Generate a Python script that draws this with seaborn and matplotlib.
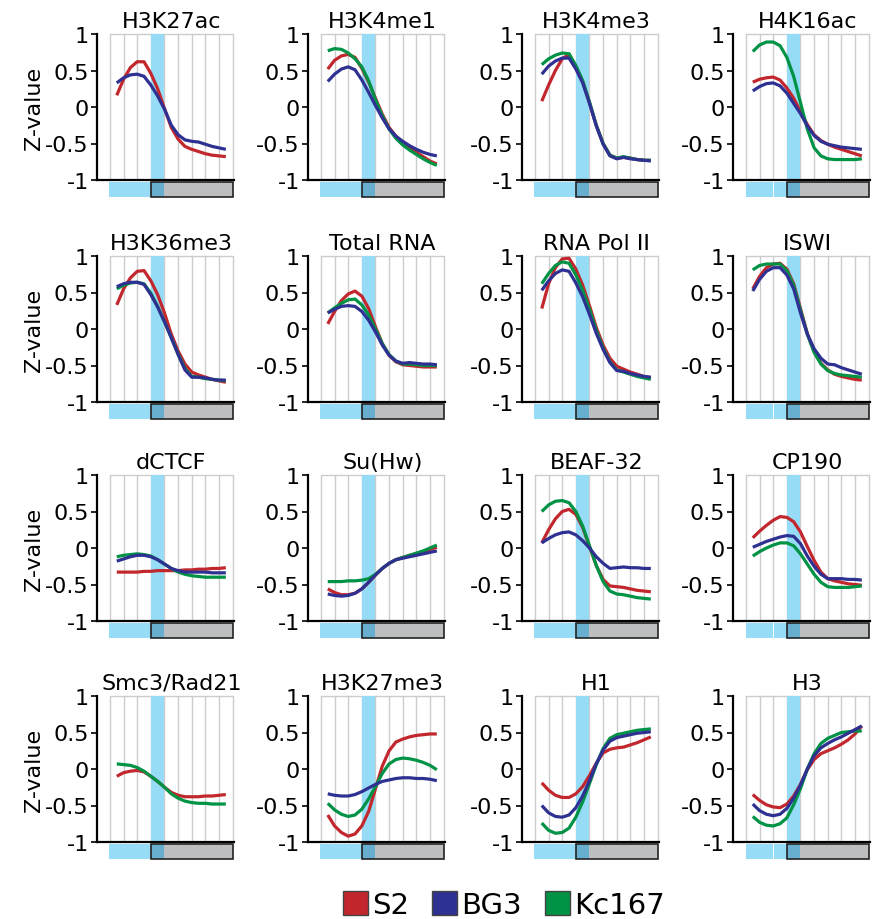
import matplotlib
matplotlib.use("Agg")
import matplotlib.pyplot as plt
from matplotlib.patches import Rectangle, Patch
import pandas as pd
import seaborn as sns

# ---- data -------------------------------------------------------------
# bin centres along the profile (9 bins, sampled every half bin)
positions = [0.5, 1.0, 1.5, 2.0, 2.5, 3.0, 3.5, 4.0, 4.5,
             5.0, 5.5, 6.0, 6.5, 7.0, 7.5, 8.0, 8.5]

cell_lines = ["S2", "BG3", "Kc167"]

h3k27ac_s2 = [0.16, 0.38, 0.54, 0.62, 0.62, 0.46, 0.25, -0.02, -0.28, -0.44, -0.54, -0.58, -0.61, -0.64, -0.66, -0.67, -0.68]
h3k27ac_bg3 = [0.33, 0.40, 0.44, 0.45, 0.42, 0.30, 0.15, -0.03, -0.25, -0.38, -0.45, -0.47, -0.48, -0.51, -0.54, -0.56, -0.58]

h3k4me1_s2 = [0.52, 0.64, 0.70, 0.72, 0.68, 0.53, 0.34, 0.12, -0.10, -0.28, -0.40, -0.49, -0.56, -0.62, -0.68, -0.74, -0.78]
h3k4me1_bg3 = [0.35, 0.45, 0.52, 0.55, 0.51, 0.37, 0.20, 0.02, -0.15, -0.30, -0.40, -0.47, -0.53, -0.58, -0.62, -0.65, -0.67]
h3k4me1_kc = [0.77, 0.80, 0.79, 0.74, 0.66, 0.55, 0.36, 0.10, -0.12, -0.30, -0.43, -0.52, -0.59, -0.65, -0.71, -0.76, -0.80]

h3k4me3_s2 = [0.08, 0.30, 0.50, 0.66, 0.72, 0.55, 0.35, 0.06, -0.25, -0.50, -0.66, -0.70, -0.69, -0.70, -0.72, -0.73, -0.73]
h3k4me3_bg3 = [0.45, 0.56, 0.63, 0.67, 0.67, 0.52, 0.33, 0.05, -0.26, -0.51, -0.67, -0.71, -0.69, -0.71, -0.72, -0.73, -0.74]
h3k4me3_kc = [0.58, 0.66, 0.71, 0.74, 0.73, 0.57, 0.36, 0.07, -0.25, -0.50, -0.66, -0.70, -0.68, -0.70, -0.72, -0.73, -0.73]

h4k16ac_s2 = [0.34, 0.38, 0.40, 0.41, 0.37, 0.26, 0.12, -0.06, -0.24, -0.38, -0.46, -0.51, -0.55, -0.58, -0.61, -0.64, -0.67]
h4k16ac_bg3 = [0.22, 0.28, 0.32, 0.33, 0.29, 0.19, 0.05, -0.09, -0.26, -0.39, -0.47, -0.51, -0.53, -0.55, -0.56, -0.57, -0.58]
h4k16ac_kc = [0.76, 0.85, 0.89, 0.89, 0.84, 0.68, 0.42, 0.06, -0.30, -0.56, -0.67, -0.71, -0.72, -0.72, -0.72, -0.72, -0.71]

h3k36me3_s2 = [0.33, 0.55, 0.70, 0.79, 0.80, 0.66, 0.47, 0.22, -0.07, -0.30, -0.48, -0.59, -0.63, -0.66, -0.69, -0.71, -0.73]
h3k36me3_bg3 = [0.58, 0.62, 0.64, 0.64, 0.61, 0.47, 0.30, 0.10, -0.12, -0.35, -0.56, -0.66, -0.66, -0.67, -0.69, -0.70, -0.70]
h3k36me3_kc = [0.55, 0.60, 0.63, 0.64, 0.62, 0.49, 0.31, 0.10, -0.12, -0.34, -0.54, -0.65, -0.66, -0.68, -0.69, -0.70, -0.71]

totalrna_s2 = [0.07, 0.24, 0.39, 0.48, 0.52, 0.45, 0.28, 0.03, -0.20, -0.36, -0.45, -0.49, -0.50, -0.51, -0.52, -0.52, -0.52]
totalrna_bg3 = [0.22, 0.27, 0.31, 0.32, 0.31, 0.24, 0.12, -0.04, -0.22, -0.36, -0.44, -0.47, -0.46, -0.47, -0.48, -0.48, -0.49]
totalrna_kc = [0.22, 0.29, 0.35, 0.40, 0.41, 0.33, 0.19, 0.00, -0.20, -0.35, -0.44, -0.48, -0.48, -0.49, -0.50, -0.50, -0.50]

polii_s2 = [0.28, 0.62, 0.84, 0.96, 0.97, 0.82, 0.60, 0.32, 0.02, -0.22, -0.40, -0.51, -0.55, -0.59, -0.62, -0.65, -0.67]
polii_bg3 = [0.53, 0.66, 0.76, 0.81, 0.79, 0.63, 0.44, 0.20, -0.06, -0.28, -0.46, -0.57, -0.58, -0.61, -0.63, -0.65, -0.66]
polii_kc = [0.62, 0.76, 0.87, 0.92, 0.90, 0.74, 0.53, 0.27, -0.02, -0.26, -0.45, -0.56, -0.59, -0.62, -0.65, -0.67, -0.69]

iswi_s2 = [0.55, 0.72, 0.84, 0.89, 0.90, 0.82, 0.62, 0.28, -0.06, -0.31, -0.47, -0.56, -0.62, -0.65, -0.67, -0.69, -0.70]
iswi_bg3 = [0.52, 0.68, 0.79, 0.84, 0.84, 0.74, 0.55, 0.22, -0.07, -0.27, -0.40, -0.48, -0.49, -0.53, -0.56, -0.59, -0.62]
iswi_kc = [0.81, 0.87, 0.89, 0.89, 0.89, 0.80, 0.60, 0.26, -0.07, -0.32, -0.48, -0.57, -0.61, -0.63, -0.64, -0.65, -0.66]

dctcf_s2 = [-0.33, -0.33, -0.33, -0.33, -0.32, -0.32, -0.31, -0.31, -0.31, -0.31, -0.30, -0.30, -0.29, -0.29, -0.28, -0.28, -0.27]
dctcf_bg3 = [-0.18, -0.15, -0.12, -0.10, -0.10, -0.12, -0.16, -0.22, -0.28, -0.31, -0.33, -0.33, -0.33, -0.33, -0.34, -0.34, -0.34]
dctcf_kc = [-0.12, -0.10, -0.09, -0.08, -0.09, -0.11, -0.16, -0.22, -0.28, -0.33, -0.36, -0.38, -0.39, -0.40, -0.40, -0.40, -0.40]

suhw_s2 = [-0.56, -0.61, -0.64, -0.64, -0.62, -0.56, -0.47, -0.37, -0.28, -0.21, -0.16, -0.13, -0.10, -0.08, -0.05, -0.02, 0.01]
suhw_bg3 = [-0.63, -0.65, -0.66, -0.65, -0.62, -0.56, -0.47, -0.37, -0.28, -0.21, -0.16, -0.14, -0.12, -0.10, -0.08, -0.06, -0.04]
suhw_kc = [-0.46, -0.46, -0.46, -0.45, -0.45, -0.44, -0.42, -0.36, -0.28, -0.21, -0.16, -0.13, -0.10, -0.07, -0.04, 0.00, 0.04]

beaf32_s2 = [0.07, 0.25, 0.40, 0.50, 0.53, 0.46, 0.28, 0.02, -0.24, -0.43, -0.52, -0.53, -0.54, -0.56, -0.58, -0.59, -0.60]
beaf32_bg3 = [0.07, 0.13, 0.18, 0.21, 0.22, 0.18, 0.10, 0.00, -0.12, -0.21, -0.28, -0.27, -0.26, -0.27, -0.27, -0.28, -0.28]
beaf32_kc = [0.50, 0.59, 0.64, 0.65, 0.62, 0.50, 0.30, 0.03, -0.24, -0.46, -0.59, -0.63, -0.64, -0.66, -0.68, -0.69, -0.70]

cp190_s2 = [0.14, 0.23, 0.31, 0.38, 0.43, 0.42, 0.36, 0.22, 0.02, -0.17, -0.33, -0.42, -0.45, -0.47, -0.49, -0.50, -0.51]
cp190_bg3 = [0.01, 0.05, 0.09, 0.12, 0.15, 0.17, 0.16, 0.06, -0.11, -0.25, -0.36, -0.42, -0.42, -0.42, -0.43, -0.43, -0.44]
cp190_kc = [-0.11, -0.05, 0.00, 0.04, 0.07, 0.07, 0.03, -0.08, -0.22, -0.36, -0.47, -0.53, -0.54, -0.54, -0.54, -0.53, -0.52]

smc3_s2 = [-0.10, -0.05, -0.03, -0.02, -0.04, -0.10, -0.17, -0.25, -0.32, -0.36, -0.38, -0.38, -0.38, -0.37, -0.37, -0.36, -0.35]
smc3_kc = [0.07, 0.06, 0.05, 0.02, -0.03, -0.10, -0.17, -0.25, -0.34, -0.40, -0.44, -0.46, -0.47, -0.47, -0.48, -0.48, -0.48]

h3k27me3_s2 = [-0.63, -0.78, -0.87, -0.92, -0.89, -0.78, -0.58, -0.27, 0.04, 0.25, 0.37, 0.41, 0.44, 0.46, 0.47, 0.48, 0.48]
h3k27me3_bg3 = [-0.34, -0.36, -0.37, -0.37, -0.35, -0.31, -0.26, -0.21, -0.17, -0.15, -0.13, -0.12, -0.12, -0.13, -0.13, -0.14, -0.16]
h3k27me3_kc = [-0.47, -0.56, -0.62, -0.65, -0.63, -0.55, -0.41, -0.24, -0.06, 0.07, 0.13, 0.15, 0.14, 0.12, 0.09, 0.05, -0.01]

h1_s2 = [-0.19, -0.29, -0.36, -0.39, -0.39, -0.34, -0.24, -0.09, 0.08, 0.22, 0.27, 0.29, 0.30, 0.33, 0.36, 0.40, 0.44]
h1_bg3 = [-0.50, -0.60, -0.65, -0.66, -0.63, -0.53, -0.37, -0.16, 0.07, 0.26, 0.38, 0.43, 0.45, 0.47, 0.49, 0.50, 0.51]
h1_kc = [-0.74, -0.84, -0.88, -0.87, -0.81, -0.66, -0.45, -0.20, 0.06, 0.28, 0.42, 0.47, 0.49, 0.51, 0.53, 0.54, 0.55]

h3_s2 = [-0.35, -0.43, -0.49, -0.52, -0.53, -0.48, -0.37, -0.21, -0.01, 0.13, 0.21, 0.25, 0.29, 0.34, 0.40, 0.48, 0.59]
h3_bg3 = [-0.48, -0.57, -0.62, -0.64, -0.62, -0.54, -0.40, -0.22, 0.00, 0.18, 0.29, 0.35, 0.40, 0.44, 0.49, 0.54, 0.59]
h3_kc = [-0.65, -0.73, -0.77, -0.78, -0.75, -0.67, -0.49, -0.27, 0.00, 0.21, 0.35, 0.42, 0.46, 0.50, 0.51, 0.52, 0.52]

panels = [
    ("H3K27ac", {"S2": h3k27ac_s2, "BG3": h3k27ac_bg3}),
    ("H3K4me1", {"S2": h3k4me1_s2, "BG3": h3k4me1_bg3, "Kc167": h3k4me1_kc}),
    ("H3K4me3", {"S2": h3k4me3_s2, "BG3": h3k4me3_bg3, "Kc167": h3k4me3_kc}),
    ("H4K16ac", {"S2": h4k16ac_s2, "BG3": h4k16ac_bg3, "Kc167": h4k16ac_kc}),
    ("H3K36me3", {"S2": h3k36me3_s2, "BG3": h3k36me3_bg3, "Kc167": h3k36me3_kc}),
    ("Total RNA", {"S2": totalrna_s2, "BG3": totalrna_bg3, "Kc167": totalrna_kc}),
    ("RNA Pol II", {"S2": polii_s2, "BG3": polii_bg3, "Kc167": polii_kc}),
    ("ISWI", {"S2": iswi_s2, "BG3": iswi_bg3, "Kc167": iswi_kc}),
    ("dCTCF", {"S2": dctcf_s2, "BG3": dctcf_bg3, "Kc167": dctcf_kc}),
    ("Su(Hw)", {"S2": suhw_s2, "BG3": suhw_bg3, "Kc167": suhw_kc}),
    ("BEAF-32", {"S2": beaf32_s2, "BG3": beaf32_bg3, "Kc167": beaf32_kc}),
    ("CP190", {"S2": cp190_s2, "BG3": cp190_bg3, "Kc167": cp190_kc}),
    ("Smc3/Rad21", {"S2": smc3_s2, "Kc167": smc3_kc}),
    ("H3K27me3", {"S2": h3k27me3_s2, "BG3": h3k27me3_bg3, "Kc167": h3k27me3_kc}),
    ("H1", {"S2": h1_s2, "BG3": h1_bg3, "Kc167": h1_kc}),
    ("H3", {"S2": h3_s2, "BG3": h3_bg3, "Kc167": h3_kc}),
]

ytick_values = [-1, -0.5, 0, 0.5, 1]
ytick_labels = ["-1", "-0.5", "0", "0.5", "1"]

# ---- style -------------------------------------------------------------
palette = {"S2": "#C1272D", "BG3": "#2E3192", "Kc167": "#009245"}
draw_order = ["S2", "Kc167", "BG3"]
GRID = "#CCCCCC"
BAND = "#97DCF6"
BAND_DARK = "#68AFCF"
BOX = "#BCBEC0"

sns.set_theme(style="white")
plt.rcParams["font.family"] = ["DejaVu Sans"]
plt.rcParams["text.color"] = "black"
plt.rcParams["axes.labelcolor"] = "black"

W, H = 875, 920
fig = plt.figure(figsize=(W / 100, H / 100), dpi=100)

col_left = [97, 308, 522, 733]
row_top = [35, 257, 476, 697]
ax_w, ax_h = 137, 146
FS = 16

for i, (name, series) in enumerate(panels):
    r, c = divmod(i, 4)
    ax = fig.add_axes([col_left[c] / W, 1 - (row_top[r] + ax_h) / H, ax_w / W, ax_h / H])
    ax.set_xlim(-0.95, 9.1)
    ax.set_ylim(-1, 1)

    # bin grid and highlighted bin
    for gx in range(10):
        ax.plot([gx, gx], [-1, 1], color=GRID, lw=1.0, zorder=0, clip_on=False)
    ax.plot([0, 9], [1, 1], color=GRID, lw=1.0, zorder=0, clip_on=False)
    ax.axvspan(3, 4, color=BAND, lw=0, zorder=1)

    rows = []
    for line in draw_order:
        if line in series:
            for x, z in zip(positions, series[line]):
                rows.append({"pos": x, "z": z, "line": line})
    df = pd.DataFrame(rows)
    order = [l for l in draw_order if l in series]
    sns.lineplot(data=df, x="pos", y="z", hue="line", hue_order=order,
                 palette=palette, estimator=None, linewidth=2.3,
                 solid_joinstyle="round", solid_capstyle="butt",
                 legend=False, ax=ax, zorder=3)

    # region bar beneath the axis
    y0, hgt = -1.235, 0.205
    if c == 3:
        ax.add_patch(Rectangle((0, y0), 1.97, hgt, facecolor=BAND, lw=0, clip_on=False))
        ax.add_patch(Rectangle((2.05, y0), 0.95, hgt, facecolor=BAND, lw=0, clip_on=False))
    else:
        ax.add_patch(Rectangle((-0.1, y0), 3.1, hgt, facecolor=BAND, lw=0, clip_on=False))
    ax.add_patch(Rectangle((3, y0), 6, hgt, facecolor=BOX, lw=0, clip_on=False))
    ax.add_patch(Rectangle((3, y0), 1, hgt, facecolor=BAND_DARK, lw=0, clip_on=False))
    ax.add_patch(Rectangle((3, y0), 6, hgt, facecolor="none", edgecolor="#222222",
                           lw=1.2, clip_on=False))

    ax.text(4.5, 1.1, name, ha="center", va="baseline", fontsize=FS, color="black")

    for side in ("top", "right"):
        ax.spines[side].set_visible(False)
    for side in ("left", "bottom"):
        ax.spines[side].set_color("black")
        ax.spines[side].set_linewidth(1.6)
    ax.set_xticks([])
    ax.set_yticks(ytick_values)
    ax.set_yticklabels(ytick_labels)
    ax.tick_params(axis="y", left=True, length=4, width=1.2, direction="out",
                   pad=2, labelsize=FS, colors="black")
    ax.set_xlabel("")
    if c == 0:
        ax.set_ylabel("Z-value", fontsize=FS, labelpad=1, color="black")
    else:
        ax.set_ylabel("")

handles = [Patch(facecolor=palette[l], edgecolor="#444444", lw=1.0) for l in cell_lines]
fig.legend(handles=handles, labels=cell_lines, loc="center",
           bbox_to_anchor=(504 / W, 1 - 906 / H), ncol=3, frameon=False,
           fontsize=21, handlelength=0.85, handleheight=0.85,
           handletextpad=0.15, columnspacing=0.8, borderpad=0, borderaxespad=0,
           labelcolor="black")

fig.savefig("out.png", dpi=100)
